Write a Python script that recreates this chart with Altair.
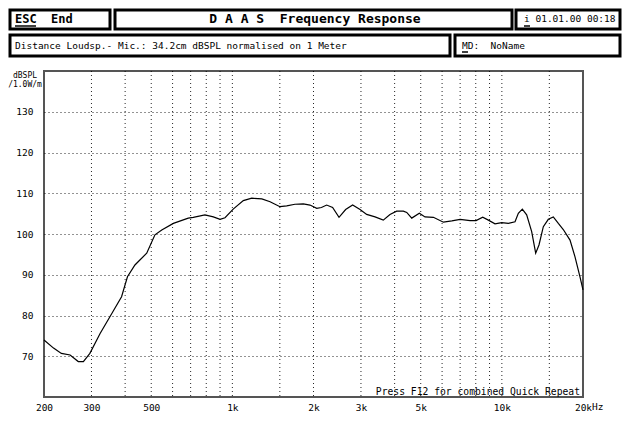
import altair as alt
import pandas as pd

# ---- data ----
freq_hz = [200, 217, 232, 250, 268, 280, 296, 323, 357, 388, 408, 435, 481, 516, 547,
           604, 686, 716, 791, 850, 900, 939, 1007, 1098, 1180, 1286, 1380, 1502, 1591,
           1707, 1833, 1941, 2056, 2140, 2238, 2355, 2487, 2632, 2794, 2977, 3150, 3384,
           3630, 3844, 4071, 4310, 4436, 4630, 4940, 5186, 5570, 6070, 6520, 7000, 7620,
           8020, 8490, 8910, 9430, 9990, 10570, 11190, 11510, 11910, 12360, 12900, 13350,
           13730, 14250, 14870, 15520, 16200, 16900, 17900, 18680, 19490, 20000]
spl_db = [74.0, 72.0, 70.7, 70.3, 68.7, 68.7, 70.7, 75.6, 80.5, 84.6, 89.5, 92.4, 95.3, 99.8, 101.0,
          102.6, 103.9, 104.1, 104.7, 104.2, 103.6, 104.0, 106.1, 108.2, 108.8, 108.6, 107.9, 106.7, 106.9,
          107.3, 107.4, 107.1, 106.3, 106.5, 107.1, 106.5, 104.1, 106.0, 107.1, 106.0, 104.8, 104.2,
          103.4, 104.8, 105.6, 105.6, 105.3, 103.9, 105.1, 104.2, 104.1, 102.9, 103.2, 103.6, 103.3,
          103.3, 104.1, 103.4, 102.5, 102.8, 102.6, 103.0, 105.1, 106.1, 104.7, 100.6, 95.3,
          97.3, 101.8, 103.6, 104.2, 102.6, 101.1, 98.5, 94.4, 89.5, 86.3]
grid_x = [300, 400, 500, 600, 700, 800, 900, 1000, 1500, 2000, 3000, 4000, 5000, 6000,
          7000, 8000, 9000, 10000, 15000]
label_x = [200, 300, 500, 1000, 2000, 3000, 5000, 10000, 20000]
tick_y = [70, 80, 90, 100, 110, 120, 130]

NB = "\u00a0"
header_title = "D A A S" + NB * 2 + "Frequency Response"
header_left = "ESC" + NB * 2 + "End"
header_date = "i 01.01.00 00:18"
header_info = "Distance Loudsp.- Mic.: 34.2cm dBSPL normalised on 1 Meter"
header_md = "MD:" + NB * 2 + "NoName"
footer_note = "Press F12 for combined Quick Repeat"
unit_lines = ["dBSPL", "/1.0W/m"]

W, H = 539, 326
MONO = "DejaVu Sans Mono"

df = pd.DataFrame({"f": freq_hz, "db": spl_db})
one = pd.DataFrame({"k": [0]})
xs = alt.Scale(type="log", domain=[200, 20000], nice=False)
ys = alt.Scale(domain=[60, 140], nice=False, zero=False)

x_axis = alt.Axis(
    values=label_x,
    labelExpr="datum.value >= 1000 ? (datum.value/1000) + 'k' : datum.value",
    grid=False, ticks=False, domain=False, labelFont=MONO, labelFontSize=9.5,
    labelColor="black", labelPadding=5, title=None, labelFlush=False)
y_axis = alt.Axis(
    values=tick_y, grid=True, gridDash=[1, 3], gridColor="black", gridOpacity=0.85,
    ticks=False, domain=False, labelFont=MONO, labelFontSize=9.5, labelPadding=11,
    title=None, labelColor="black")

grid = alt.Chart(pd.DataFrame({"g": grid_x})).mark_rule(
    color="black", strokeDash=[1, 3], strokeWidth=1, opacity=0.85
).encode(x=alt.X("g:Q", scale=xs, axis=x_axis))

line = alt.Chart(df).mark_line(color="black", strokeWidth=1.2).encode(
    x=alt.X("f:Q", scale=xs, axis=x_axis),
    y=alt.Y("db:Q", scale=ys, axis=y_axis),
)

hz = alt.Chart(one).mark_text(
    text="Hz", font=MONO, fontSize=9.5, align="left", baseline="top", dx=9, color="black"
).encode(x=alt.datum(20000), y=alt.value(H + 5))

press = alt.Chart(one).mark_text(
    text=footer_note, font=MONO, fontSize=9.7, align="right", baseline="alphabetic", color="black"
).encode(x=alt.value(536), y=alt.value(H - 2))

unit1 = alt.Chart(one).mark_text(
    text=unit_lines[0], font=MONO, fontSize=8, align="center", baseline="middle", color="black"
).encode(x=alt.value(-19), y=alt.value(5))
unit2 = alt.Chart(one).mark_text(
    text=unit_lines[1], font=MONO, fontSize=8, align="center", baseline="middle", color="black"
).encode(x=alt.value(-19), y=alt.value(14))


def box(x1, y1, x2, y2):
    return alt.Chart(one).mark_rect(fill="white", stroke="black", strokeWidth=3).encode(
        x=alt.value(x1), x2=alt.value(x2), y=alt.value(y1), y2=alt.value(y2))


def txt(s, x, y, size=9.5, bold=False, align="left"):
    return alt.Chart(one).mark_text(
        text=s, font=MONO, fontSize=size, fontWeight="bold" if bold else "normal",
        align=align, baseline="middle", color="black"
    ).encode(x=alt.value(x), y=alt.value(y))


def uline(x1, x2, y):
    return alt.Chart(one).mark_rule(color="black", strokeWidth=1.5).encode(
        x=alt.value(x1), x2=alt.value(x2), y=alt.value(y))


boxes = [
    box(-34, -61, 66, -42),
    box(71, -61, 468, -42),
    box(472, -61, 576, -42),
    box(-34, -36, 406, -15),
    box(411, -36, 576, -15),
]
texts = [
    txt(header_left, -29, -52, size=12, bold=True),
    txt(header_title, 271, -52, size=13, bold=True, align="center"),
    txt(header_date, 480, -52),
    txt(header_info, -29, -25.5),
    txt(header_md, 418, -25.5),
    uline(-29, -8, -45),
    uline(480, 486, -45),
    uline(418, 424, -19),
]

chart = alt.layer(
    grid, line, hz, press, unit1, unit2, *boxes, *texts
).properties(
    width=W, height=H, autosize="none",
    padding={"left": 36, "top": 63, "right": 39, "bottom": 18},
    background="white",
).configure_view(stroke="#555555", strokeWidth=2)

chart.save("out.html", embed_options={"renderer": "svg", "actions": False})
